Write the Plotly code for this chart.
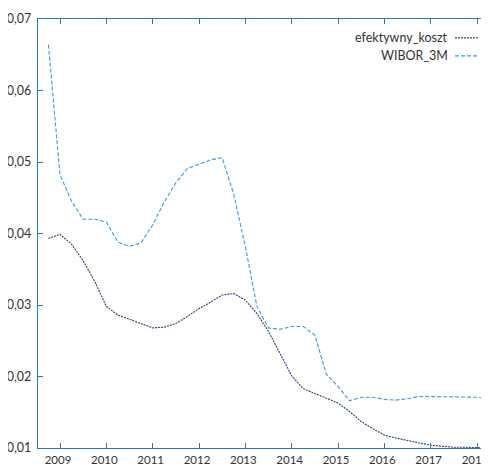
import plotly.graph_objects as go

quarters = [2008.75, 2009.00, 2009.25, 2009.50, 2009.75, 2010.00, 2010.25, 2010.50,
            2010.75, 2011.00, 2011.25, 2011.50, 2011.75, 2012.00, 2012.25, 2012.50,
            2012.75, 2013.00, 2013.25, 2013.50, 2013.75, 2014.00, 2014.25, 2014.50,
            2014.75, 2015.00, 2015.25, 2015.50, 2015.75, 2016.00, 2016.25, 2016.50,
            2016.75, 2017.00, 2017.25, 2017.50, 2017.75, 2018.00, 2018.25]

efektywny_koszt = [0.0393, 0.0399, 0.0385, 0.0362, 0.0333, 0.0298, 0.0286, 0.0280,
                   0.0273, 0.0268, 0.0269, 0.0274, 0.0284, 0.0295, 0.0304, 0.0314,
                   0.0316, 0.0307, 0.0288, 0.0263, 0.0232, 0.0201, 0.0183, 0.0176,
                   0.0170, 0.0163, 0.0151, 0.0137, 0.0127, 0.0118, 0.0114, 0.0110,
                   0.0107, 0.0104, 0.0102, 0.0101, 0.0101, 0.0100, 0.0100]

wibor_3m = [0.0664, 0.0482, 0.0445, 0.0420, 0.0420, 0.0416, 0.0388, 0.0382,
            0.0387, 0.0412, 0.0444, 0.0471, 0.0491, 0.0497, 0.0503, 0.0506,
            0.0455, 0.0382, 0.0298, 0.0268, 0.0266, 0.0270, 0.0270, 0.0258,
            0.0203, 0.0186, 0.0166, 0.0171, 0.0171, 0.0168, 0.0167, 0.0169,
            0.0172, 0.0172, 0.0172, 0.0172, 0.0172, 0.0171, 0.0169]

x_ticks = [2009, 2010, 2011, 2012, 2013, 2014, 2015, 2016, 2017, 2018]
y_ticks = [0.01, 0.02, 0.03, 0.04, 0.05, 0.06, 0.07]

series_names = ["efektywny_koszt", "WIBOR_3M"]
series_colors = ["#2b3d7e", "#3a9ad9"]
series_dash = ["2px,1px", "4px,2px"]

FONT = "Lato, Roboto, sans-serif"
AXIS = "#2a78b8"

fig = go.Figure()
for name, ys, col, dash in zip(series_names, [efektywny_koszt, wibor_3m], series_colors, series_dash):
    fig.add_trace(go.Scatter(x=quarters, y=ys, mode="lines", name=name,
                             line=dict(color=col, width=1.1, dash=dash),
                             showlegend=False))

# gnuplot-style key: right-aligned text followed by line sample
key_y = [0.956, 0.914]
for name, col, dash, ky in zip(series_names, series_colors, series_dash, key_y):
    fig.add_annotation(xref="paper", yref="paper", x=0.909, y=ky, text=name,
                       showarrow=False, xanchor="right", yanchor="middle",
                       xshift=2, font=dict(family=FONT, size=12.5, color="#333333"))
    fig.add_shape(type="line", xref="paper", yref="paper", x0=0.9246, x1=0.9778,
                  y0=ky, y1=ky, line=dict(color=col, width=1.1, dash=dash))

# page body has an 8px default margin, so the figure is sized to end at the window edge
fig.update_layout(
    width=481, height=460,
    margin=dict(l=30, r=0, t=11, b=20),
    paper_bgcolor="white", plot_bgcolor="white",
    separators=", ",
    font=dict(family=FONT, size=12, color="#333333"),
    xaxis=dict(range=[2008.525, 2018.259], tickvals=x_ticks, tickformat="d",
               showgrid=False, zeroline=False, showline=True, linecolor=AXIS,
               linewidth=1.3, mirror="ticks", ticks="inside", ticklen=5,
               tickcolor=AXIS, tickwidth=1.3, automargin=False,
               ticklabeloverflow="allow", ticklabelstandoff=1, ticklabelshift=-2,
               tickfont=dict(size=11.5)),
    yaxis=dict(range=[0.01, 0.07], tickvals=y_ticks, tickformat=".2f",
               showgrid=False, zeroline=False, showline=True, linecolor=AXIS,
               linewidth=1.3, ticks="inside", ticklen=5, tickcolor=AXIS,
               tickwidth=1.3, automargin=False, ticklabeloverflow="allow",
               ticklabelstandoff=3, tickfont=dict(size=12.5)),
)

fig.write_html("out.html")
